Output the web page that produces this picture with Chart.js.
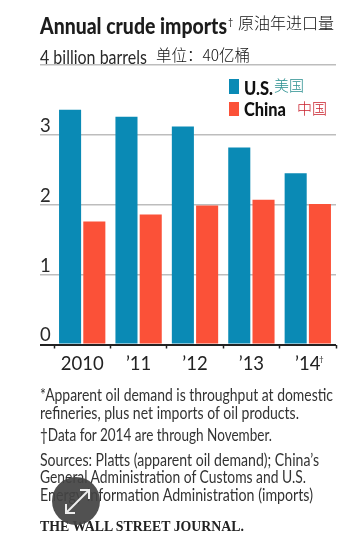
<!DOCTYPE html>
<html><head><meta charset="utf-8">
<script src="https://cdn.jsdelivr.net/npm/chart.js@4"></script>
<style>
html,body{margin:0;padding:0;background:#fff;overflow:hidden}
#wrap{position:relative;width:358px;height:547px;overflow:hidden}
#c{position:absolute;left:0;top:0}
.t{position:absolute;white-space:nowrap;line-height:1;color:#2a2a2a;font-family:Lato,sans-serif;transform-origin:0 0}
.zh{font-family:"Noto Sans CJK SC",sans-serif;font-weight:300;color:#111}
.sq{position:absolute;width:10px}
.fn{font-size:16.5px;color:#333}
</style></head><body>
<div id="wrap">
<canvas id="c" width="358" height="547"></canvas>
<div class="t" data-w="187" style="left:40px;top:15px;font-size:22px;font-weight:900;color:#1c1c1c">Annual crude imports</div>
<div class="t" style="left:228px;top:17px;font-size:9px">†</div>
<div class="t zh" style="left:238px;top:14px;font-size:16px">原油年进口量</div>
<div class="t" data-w="107" style="left:40px;top:48px;font-size:18.5px">4 billion barrels</div>
<div class="t zh" style="left:156px;top:47px;font-size:15.5px">单位：40亿桶</div>
<div class="sq" style="left:229px;top:79px;height:15px;background:#0a8ab5"></div>
<div class="sq" style="left:229px;top:102px;height:14px;background:#fb5138"></div>
<div class="t" data-w="29" style="left:244px;top:79px;font-size:18.5px;font-weight:900;color:#111">U.S.</div>
<div class="t zh" style="left:274px;top:77px;font-size:15px;color:#2a8f8f">美国</div>
<div class="t" data-w="42" style="left:244px;top:100px;font-size:18.5px;font-weight:900;color:#111">China</div>
<div class="t zh" style="left:297px;top:100px;font-size:15px;color:#c9202c">中国</div>
<div class="t" style="left:319px;top:355px;font-size:8px">†</div>
<div class="t fn" data-w="293" style="left:40px;top:387px">*Apparent oil demand is throughput at domestic</div>
<div class="t fn" data-w="259" style="left:40px;top:405px">refineries, plus net imports of oil products.</div>
<div class="t fn" data-w="232" style="left:40px;top:427px">†Data for 2014 are through November.</div>
<div class="t fn" data-w="279" style="left:40px;top:452px">Sources: Platts (apparent oil demand); China’s</div>
<div class="t fn" data-w="266" style="left:40px;top:469px">General Administration of Customs and U.S.</div>
<div class="t fn" data-w="273" style="left:40px;top:487px">Energy Information Administration (imports)</div>
<div class="t" data-w="204" style="left:40px;top:518px;font-family:'Liberation Serif',serif;font-weight:700;font-size:15.5px;color:#222">THE WALL STREET JOURNAL.</div>
<svg style="position:absolute;left:52px;top:477px" width="48" height="48" viewBox="0 0 48 48">
<circle cx="24" cy="24" r="24" fill="#444" fill-opacity=".93"/>
<path d="M28 13H37V22M37 13L14 36M14 27V36H23" fill="none" stroke="#eee" stroke-width="2"/>
</svg>
</div>
<script>
const categories = ['2010', '’11', '’12', '’13', '’14'];
const usImports = [3.36, 3.26, 3.12, 2.82, 2.45];
const chinaImports = [1.76, 1.86, 1.99, 2.07, 2.01];
const yTickLabels = {0:'0', 1:'1', 2:'2', 3:'3', 4:''};
document.querySelectorAll('[data-w]').forEach(e=>{
  const w = e.getBoundingClientRect().width;
  e.style.transform = 'scaleX(' + (+e.dataset.w / w) + ')';
});
const canvas = document.getElementById('c');
canvas.getContext('2d').letterSpacing = '-0.8px';
new Chart(canvas, {
  type: 'bar',
  data: { labels: categories, datasets: [
    { label: 'U.S.', data: usImports, backgroundColor: '#0a8ab5', categoryPercentage: 0.86, barPercentage: 0.91 },
    { label: 'China', data: chinaImports, backgroundColor: '#fb5138', categoryPercentage: 0.86, barPercentage: 0.91 }
  ]},
  options: {
    responsive: false, animation: false, devicePixelRatio: 1,
    layout: { padding: { left: 40, right: 22, top: 65, bottom: 0 } },
    plugins: { legend: { display: false }, title: { display: false }, tooltip: { enabled: false } },
    scales: {
      x: {
        afterFit(s){ s.height = 547 - 344.5; },
        grid: { drawOnChartArea: false, drawTicks: true, tickLength: 4, tickColor: '#222', tickWidth: 1.5 },
        border: { display: false },
        ticks: { color: '#222', padding: 4, maxRotation: 0, autoSkip: false,
          font: { family: 'Lato,sans-serif', size: 18.5 } }
      },
      y: {
        min: 0, max: 4,
        afterFit(s){ s.width = 14; },
        grid: { tickLength: 14, drawTicks: true,
          color: c => c.tick && c.tick.value === 0 ? '#222' : '#bdbdbd',
          tickColor: c => c.tick && c.tick.value === 0 ? '#222' : '#bdbdbd',
          lineWidth: c => c.tick && c.tick.value === 0 ? 2 : 1.5 },
        border: { display: false },
        ticks: { stepSize: 1, mirror: true, padding: -14, labelOffset: -9, color: '#2a2a2a',
          callback: v => yTickLabels[v],
          font: { family: 'Lato,sans-serif', size: 18.5 } }
      }
    }
  }
});
</script>
</body></html>
